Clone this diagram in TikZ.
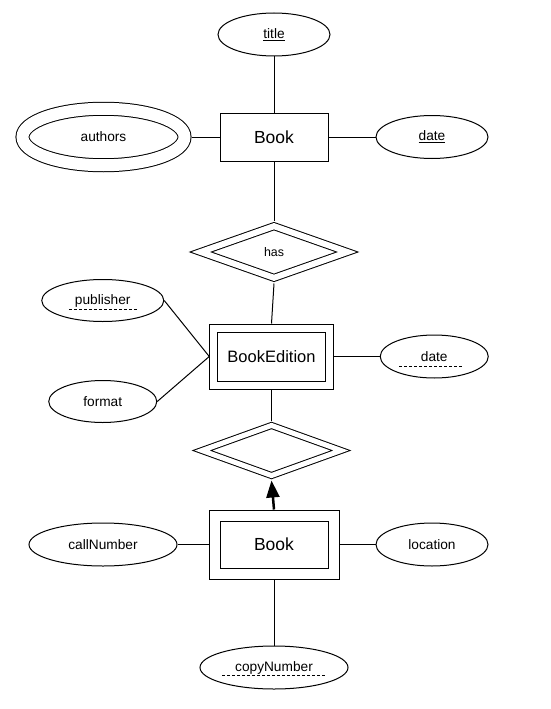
\documentclass[tikz,border=0pt]{standalone}
\usepackage{fontspec}
\setmainfont{Liberation Sans}
\usetikzlibrary{positioning,shapes.geometric,arrows.meta}
\tikzset{
inner sep=0pt,
ent/.style={rectangle,draw,minimum width=108pt,minimum height=48pt,font=\fontsize{17.5}{20}\selectfont},
wk/.style={ent,double,double distance=#1,outer sep=#1/2+1pt},
attr/.style={ellipse,draw,minimum height=43pt,font=\fontsize{13.7}{16}\selectfont},
mv/.style={attr,double,double distance=#1,outer sep=#1/2+1pt},
rel/.style={diamond,draw,double,double distance=#1,outer sep=#1/2+1pt,font=\fontsize{12.4}{14}\selectfont},
pk/.style={dash pattern=on 3pt off 2pt,line width=0.8pt},
idf/.style={line width=2.5pt,-{Triangle[length=17pt,width=13pt]}},
}

\begin{document}
\begin{tikzpicture}[x=1pt,y=-1pt,line width=1pt]
	\useasboundingbox (0,0) rectangle (550,709);

	\node[ent] (book) at (274,137) {Book};
	\node[attr,minimum width=112pt,above=56pt of book] (title) {\underline{title}};
	\node[mv=12pt,minimum width=162pt,minimum height=56.5pt,left=28pt of book] (auth) {authors};
	\node[attr,minimum width=112pt,right=47pt of book] (bdate) {\underline{date}};

	\node[rel=6pt,minimum width=150pt,minimum height=55pt,below=59pt of book] (has) {has};

	\node[wk=7pt,minimum width=115.5pt,minimum height=57pt,below=40pt of has,xshift=-2.5pt,
		font=\fontsize{16.5}{19}\selectfont] (bked) {BookEdition};
	\node[attr,minimum width=122pt,minimum height=42pt,left=45pt of bked,yshift=56pt] (pub) {publisher};
	\node[attr,minimum width=108pt,minimum height=42pt,left=52pt of bked,yshift=-45pt] (fmt) {format};
	\node[attr,minimum width=108pt,right=46pt of bked] (edate) {date};

	\node[rel=5pt,minimum width=142pt,minimum height=53pt,below=31pt of bked] (own) {};

	\node[wk=10pt,minimum width=119pt,minimum height=58pt,below=29pt of own,xshift=2.5pt] (copy) {Book};
	\node[attr,minimum width=148pt,left=31pt of copy] (call) {callNumber};
	\node[attr,minimum width=112pt,right=36pt of copy] (loc) {location};
	\node[attr,minimum width=148pt,below=66pt of copy] (cnum) {copyNumber};

	\draw (book) -- (title);
	\draw (book) -- (auth);
	\draw (book) -- (bdate);
	\draw (book) -- (has);
	\draw (has.south) -- (bked.north);
	\draw (pub.east) -- (bked.west);
	\draw (fmt.east) -- (bked.west);
	\draw (bked) -- (edate);
	\draw (bked) -- (own);
	\draw[idf] (copy.north) -- (own.south);
	\draw (copy) -- (call);
	\draw (copy) -- (loc);
	\draw (copy) -- (cnum);

	% partial keys
	\draw[pk] ([xshift=-34pt,yshift=-5pt]pub.base) -- ([xshift=35pt,yshift=-5pt]pub.base);
	\draw[pk] ([xshift=-35pt,yshift=-5pt]edate.base) -- ([xshift=29pt,yshift=-5pt]edate.base);
	\draw[pk] ([xshift=-52pt,yshift=-4pt]cnum.base) -- ([xshift=51pt,yshift=-4pt]cnum.base);
\end{tikzpicture}
\end{document}
